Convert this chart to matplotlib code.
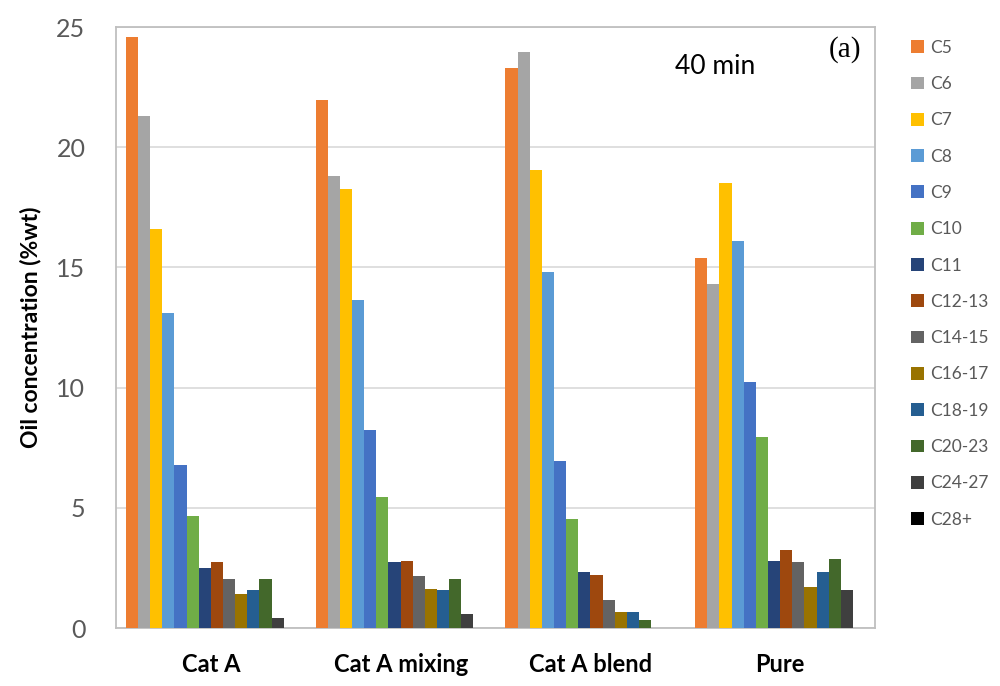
import numpy as np
import matplotlib.pyplot as plt

groups = ["Cat A", "Cat A mixing", "Cat A blend", "Pure"]
fractions = ["C5", "C6", "C7", "C8", "C9", "C10", "C11", "C12-13",
             "C14-15", "C16-17", "C18-19", "C20-23", "C24-27", "C28+"]

# one list per group, in the order of fractions
cat_a = [24.6, 21.3, 16.6, 13.1, 6.8, 4.65, 2.5, 2.75, 2.05, 1.4, 1.58, 2.05, 0.42, 0.0]
cat_a_mixing = [21.95, 18.8, 18.25, 13.65, 8.25, 5.45, 2.75, 2.8, 2.15, 1.62, 1.57, 2.05, 0.6, 0.0]
cat_a_blend = [23.3, 23.95, 19.05, 14.8, 6.95, 4.55, 2.32, 2.22, 1.15, 0.67, 0.67, 0.33, 0.0, 0.0]
pure = [15.4, 14.3, 18.5, 16.1, 10.25, 7.95, 2.8, 3.25, 2.75, 1.72, 2.32, 2.87, 1.57, 0.0]

colors = ["#ED7D31", "#A5A5A5", "#FFC000", "#5B9BD5", "#4472C4", "#70AD47",
          "#264478", "#9E480E", "#636363", "#997300", "#255E91", "#43682B",
          "#3F3F3F", "#000000"]

data = np.array([cat_a, cat_a_mixing, cat_a_blend, pure])

plt.rcParams['font.family'] = ['Lato', 'DejaVu Sans']

fig = plt.figure(figsize=(10, 6.86), dpi=100)
ax = fig.add_axes([0.116, 0.0845, 0.759, 0.876])

x = np.arange(len(groups))
n = len(fractions)
w = 0.064
for i, name in enumerate(fractions):
    ax.bar(x - n * w / 2 + (i + 0.5) * w, data[:, i], width=w,
           color=colors[i], label=name, zorder=3)

ax.set_xlim(-0.5, len(groups) - 0.5)
ax.set_ylim(0, 25)
ax.set_yticks([0, 5, 10, 15, 20, 25])
ax.yaxis.grid(True, color="#D9D9D9", linewidth=1.2, zorder=0)
ax.set_xticks(x)
ax.set_xticklabels(groups, fontsize=17, fontweight="bold")
ax.tick_params(axis="y", labelsize=18, labelcolor="#595959", length=0, pad=22)
ax.tick_params(axis="x", length=0, pad=18)
for s in ax.spines.values():
    s.set_color("#BFBFBF")
    s.set_linewidth(1.3)

ax.set_ylabel("Oil concentration (%wt)", fontsize=16.5, fontweight="bold", labelpad=11)

ax.text(0.79, 0.935, "40 min", transform=ax.transAxes, fontsize=19,
        ha="center", va="center")
ax.text(0.961, 0.962, "(a)", transform=ax.transAxes, fontsize=21,
        ha="center", va="center", family="Liberation Serif")

leg = fig.legend(loc="upper left", bbox_to_anchor=(0.895, 0.965), frameon=False,
                 fontsize=12.5, labelspacing=1.17, handlelength=0.75,
                 handleheight=0.75, handletextpad=0.4)
for t in leg.get_texts():
    t.set_color("#595959")

fig.savefig("out.png", dpi=100)
